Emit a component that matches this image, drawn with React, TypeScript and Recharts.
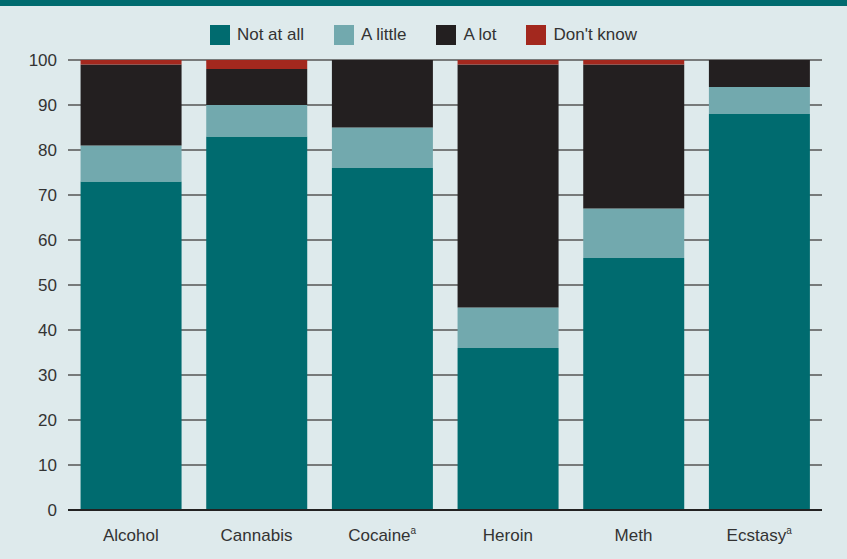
import { BarChart, Bar, XAxis, YAxis, CartesianGrid, Legend } from 'recharts';

const categories = ['Alcohol', 'Cannabis', 'Cocaine', 'Heroin', 'Meth', 'Ecstasy'];
const footnotes = ['', '', 'a', '', '', 'a'];
const notAtAll = [73, 83, 76, 36, 56, 88];
const aLittle = [8, 7, 9, 9, 11, 6];
const aLot = [18, 8, 15, 54, 32, 6];
const dontKnow = [1, 2, 0, 1, 1, 0];
const yTicks = [0, 10, 20, 30, 40, 50, 60, 70, 80, 90, 100];

const series = [
  { key: 'notAtAll', name: 'Not at all', color: '#006b6f' },
  { key: 'aLittle', name: 'A little', color: '#72a9ae' },
  { key: 'aLot', name: 'A lot', color: '#231f20' },
  { key: 'dontKnow', name: "Don't know", color: '#a3281e' },
];

const data = categories.map((name, i) => ({
  name,
  note: footnotes[i],
  notAtAll: notAtAll[i],
  aLittle: aLittle[i],
  aLot: aLot[i],
  dontKnow: dontKnow[i],
}));

const FONT = "'Liberation Sans Narrow', 'Arial Narrow', 'Liberation Sans', sans-serif";
const TEXT = '#333333';

const XTick = ({ x, y, payload, index }: any) => {
  const note = footnotes[index] ?? '';
  return (
    <text x={x} y={y + 23} textAnchor="middle" fill={TEXT} fontSize={17} fontFamily={FONT}>
      {payload.value}
      {note && (
        <tspan fontSize={10} dy={-7}>
          {note}
        </tspan>
      )}
    </text>
  );
};

const YTick = ({ y, payload }: any) => (
  <text x={57} y={y + 6} textAnchor="end" fill={TEXT} fontSize={17} fontFamily={FONT}>
    {payload.value}
  </text>
);

const LegendContent = () => (
  <div style={{ display: 'flex', justifyContent: 'center', gap: 30, fontFamily: FONT, fontSize: 17, color: TEXT }}>
    {series.map((s) => (
      <div key={s.key} style={{ display: 'flex', alignItems: 'center', gap: 7 }}>
        <span style={{ width: 20, height: 20, background: s.color, display: 'inline-block' }} />
        <span>{s.name}</span>
      </div>
    ))}
  </div>
);

export default function App() {
  return (
    <div style={{ position: 'absolute', left: 0, top: 0, width: 847, height: 559, background: '#deeaec' }}>
      <div style={{ height: 6, background: '#006b6f' }} />
      <BarChart
        width={847}
        height={553}
        data={data}
        margin={{ top: 34, right: 25, bottom: 0, left: 0 }}
        barCategoryGap="10%"
      >
        <CartesianGrid vertical={false} stroke="#555555" strokeWidth={1.5} />
        <XAxis
          dataKey="name"
          tick={<XTick />}
          tickLine={false}
          axisLine={{ stroke: '#222222', strokeWidth: 2 }}
          height={49}
          interval={0}
        />
        <YAxis
          domain={[0, 100]}
          ticks={yTicks}
          tick={<YTick />}
          tickLine={false}
          axisLine={false}
          width={68}
        />
        <Legend verticalAlign="top" content={<LegendContent />} wrapperStyle={{ top: 19, left: 0, width: 847 }} />
        {series.map((s) => (
          <Bar key={s.key} dataKey={s.key} name={s.name} stackId="a" fill={s.color} isAnimationActive={false} />
        ))}
      </BarChart>
    </div>
  );
}
